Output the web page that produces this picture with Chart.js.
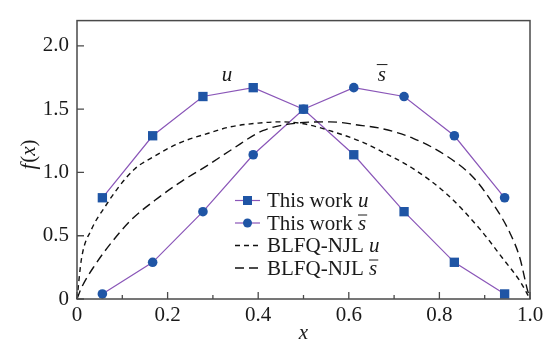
<!DOCTYPE html>
<html>
<head>
<meta charset="utf-8">
<script src="https://cdn.jsdelivr.net/npm/chart.js@4.4.1/dist/chart.umd.min.js"></script>
<style>
  html, body { margin: 0; padding: 0; background: #ffffff; }
  #wrap { width: 560px; height: 343px; position: relative; }
  .fontprobe { position: absolute; left: -1000px; top: 0; font-family: "Liberation Serif"; font-size: 21px; }
</style>
</head>
<body>
<span class="fontprobe">This work <i>u</i> 0.5</span>
<div id="wrap"><canvas id="c" width="560" height="343"></canvas></div>
<script>
// ---- data ----
const xPoints = [0.056, 0.167, 0.278, 0.389, 0.5, 0.611, 0.722, 0.833, 0.944];
const thisWorkU = [0.80, 1.29, 1.60, 1.67, 1.50, 1.14, 0.69, 0.29, 0.04];
const thisWorkS = [0.04, 0.29, 0.69, 1.14, 1.50, 1.67, 1.60, 1.29, 0.80];

const njlUx = [0, 0.01, 0.032, 0.062, 0.091, 0.128, 0.172, 0.224, 0.29, 0.338, 0.40, 0.45, 0.50, 0.558, 0.63, 0.67, 0.742, 0.816, 0.89, 0.94, 0.978, 1.0];
const njlUy = [0, 0.32, 0.55, 0.73, 0.88, 1.03, 1.13, 1.23, 1.31, 1.36, 1.39, 1.40, 1.385, 1.33, 1.24, 1.17, 1.03, 0.83, 0.55, 0.32, 0.14, 0];

const njlSx = [0, 0.01, 0.04, 0.077, 0.121, 0.172, 0.231, 0.29, 0.341, 0.41, 0.486, 0.558, 0.63, 0.669, 0.742, 0.816, 0.875, 0.919, 0.956, 0.978, 0.993, 1.0];
const njlSy = [0, 0.09, 0.27, 0.45, 0.63, 0.78, 0.93, 1.06, 1.18, 1.33, 1.39, 1.40, 1.37, 1.35, 1.27, 1.13, 0.96, 0.75, 0.52, 0.32, 0.09, 0];

const xMajorTicks = [0, 0.2, 0.4, 0.6, 0.8, 1.0];
const xMinorTicks = [0.1, 0.3, 0.5, 0.7, 0.9];
const yMajorTicks = [0, 0.5, 1.0, 1.5, 2.0];

const legendLabels = [
  ['This work ', 'u', false],
  ['This work ', 's', true],
  ['BLFQ-NJL ', 'u', false],
  ['BLFQ-NJL ', 's', true]
];

// ---- styles ----
const BLUE = '#1f55a5';
const PURPLE = '#8a56b8';
const FONT = '"Liberation Serif", serif';
const FS = 21;
const TXT = '#1a1a1a';
const FRAME = '#4a4a4a';

const zip = (xs, ys) => xs.map((x, i) => ({ x: x, y: ys[i] }));

function fmt(v) { return v === 0 ? '0' : v.toFixed(1); }

function drawMixed(ctx, x, y, plain, ital, bar) {
  ctx.textAlign = 'left';
  ctx.textBaseline = 'alphabetic';
  ctx.font = FS + 'px ' + FONT;
  ctx.fillText(plain, x, y);
  const w = ctx.measureText(plain).width;
  ctx.font = 'italic ' + FS + 'px ' + FONT;
  ctx.fillText(ital, x + w, y);
  if (bar) {
    const w2 = ctx.measureText(ital).width;
    ctx.beginPath();
    ctx.lineWidth = 1;
    ctx.moveTo(x + w, y - 14.5);
    ctx.lineTo(x + w + w2 + 1, y - 14.5);
    ctx.stroke();
  }
}

const decor = {
  id: 'decor',
  afterDraw(chart) {
    const ctx = chart.ctx;
    const xs = chart.scales.x, ys = chart.scales.y;
    const a = chart.chartArea;
    ctx.save();
    ctx.strokeStyle = FRAME;
    ctx.lineWidth = 1.5;
    ctx.strokeRect(a.left, a.top, a.right - a.left, a.bottom - a.top);
    ctx.lineWidth = 1.3;
    ctx.beginPath();
    xMajorTicks.forEach(v => { const p = xs.getPixelForValue(v); ctx.moveTo(p, a.bottom); ctx.lineTo(p, a.bottom - 7); });
    xMinorTicks.forEach(v => { const p = xs.getPixelForValue(v); ctx.moveTo(p, a.bottom); ctx.lineTo(p, a.bottom - 4); });
    yMajorTicks.forEach(v => { const p = ys.getPixelForValue(v); ctx.moveTo(a.left, p); ctx.lineTo(a.left + 7, p); });
    ctx.stroke();

    ctx.fillStyle = TXT;
    ctx.strokeStyle = TXT;
    ctx.font = 'italic ' + FS + 'px ' + FONT;
    ctx.textAlign = 'center';
    ctx.textBaseline = 'alphabetic';
    ctx.fillText('x', (a.left + a.right) / 2, 339);
    ctx.save();
    ctx.translate(35, 155);
    ctx.rotate(-Math.PI / 2);
    const parts = [['f', true], ['(', false], ['x', true], [')', false]];
    let total = 0;
    parts.forEach(p => { ctx.font = (p[1] ? 'italic ' : '') + FS + 'px ' + FONT; total += ctx.measureText(p[0]).width; });
    let cx = -total / 2;
    ctx.textAlign = 'left';
    parts.forEach(p => { ctx.font = (p[1] ? 'italic ' : '') + FS + 'px ' + FONT; ctx.fillText(p[0], cx, 0); cx += ctx.measureText(p[0]).width + (p[0] === 'f' ? 1 : 0); });
    ctx.restore();

    ctx.font = 'italic ' + FS + 'px ' + FONT;
    ctx.textAlign = 'center';
    ctx.fillText('u', xs.getPixelForValue(0.331), ys.getPixelForValue(1.726));
    const sx = xs.getPixelForValue(0.673), sy = ys.getPixelForValue(1.726);
    ctx.fillText('s', sx, sy);
    const sw = ctx.measureText('s').width;
    ctx.beginPath(); ctx.lineWidth = 1;
    ctx.moveTo(sx - sw / 2 - 1, sy - 16); ctx.lineTo(sx + sw / 2 + 1.5, sy - 16); ctx.stroke();

    const lx0 = 235, lx1 = 260, tx = 267;
    const rowsY = [200.5, 223, 245.5, 268];
    rowsY.forEach((ry, i) => {
      ctx.save();
      ctx.beginPath();
      if (i < 2) {
        ctx.strokeStyle = PURPLE; ctx.lineWidth = 1.2; ctx.setLineDash([]);
      } else {
        ctx.strokeStyle = '#111'; ctx.lineWidth = 1.4;
        ctx.setLineDash(i === 2 ? [5, 4] : [9, 5]);
      }
      ctx.moveTo(lx0, ry); ctx.lineTo(lx1, ry); ctx.stroke();
      ctx.setLineDash([]);
      ctx.fillStyle = BLUE;
      if (i === 0) { ctx.fillRect((lx0 + lx1) / 2 - 4.5, ry - 4.5, 9, 9); }
      if (i === 1) { ctx.beginPath(); ctx.arc((lx0 + lx1) / 2, ry, 4.5, 0, Math.PI * 2); ctx.fill(); }
      ctx.restore();
      ctx.fillStyle = TXT; ctx.strokeStyle = TXT;
      drawMixed(ctx, tx, ry + 6.5, legendLabels[i][0], legendLabels[i][1], legendLabels[i][2]);
    });
    ctx.restore();
  }
};

function build() {
  new Chart(document.getElementById('c'), {
    type: 'scatter',
    data: {
      datasets: [
        { label: 'BLFQ-NJL u', data: zip(njlUx, njlUy), showLine: true, borderColor: '#111', borderWidth: 1.4,
          borderDash: [5, 4], pointRadius: 0, cubicInterpolationMode: 'monotone', fill: false },
        { label: 'BLFQ-NJL s', data: zip(njlSx, njlSy), showLine: true, borderColor: '#111', borderWidth: 1.4,
          borderDash: [9, 5], pointRadius: 0, cubicInterpolationMode: 'monotone', fill: false },
        { label: 'This work u', data: zip(xPoints, thisWorkU), showLine: true, borderColor: PURPLE, borderWidth: 1.2,
          pointStyle: 'rect', pointRadius: 6.6, pointBackgroundColor: BLUE, pointBorderColor: BLUE, pointBorderWidth: 0 },
        { label: 'This work s', data: zip(xPoints, thisWorkS), showLine: true, borderColor: PURPLE, borderWidth: 1.2,
          pointStyle: 'circle', pointRadius: 4.8, pointBackgroundColor: BLUE, pointBorderColor: BLUE, pointBorderWidth: 0 }
      ]
    },
    options: {
      responsive: false,
      animation: false,
      layout: { padding: { top: 9, right: 30, left: 0, bottom: 0 } },
      plugins: { legend: { display: false }, tooltip: { enabled: false } },
      clip: false,
      scales: {
        x: {
          type: 'linear', min: 0, max: 1.0,
          grid: { display: false, drawTicks: false },
          border: { display: false },
          afterBuildTicks: s => { s.ticks = xMajorTicks.map(v => ({ value: v })); },
          afterFit: s => { s.height = 44; },
          ticks: { color: TXT, font: { family: FONT, size: FS }, padding: 4, maxRotation: 0, callback: v => fmt(v) }
        },
        y: {
          type: 'linear', min: 0, max: 2.2,
          grid: { display: false, drawTicks: false },
          border: { display: false },
          afterBuildTicks: s => { s.ticks = yMajorTicks.map(v => ({ value: v })); },
          afterFit: s => { s.width = 77; },
          ticks: { color: TXT, font: { family: FONT, size: FS }, padding: 8, callback: v => fmt(v) }
        }
      }
    },
    plugins: [decor]
  });
}

Promise.all([
  document.fonts.load('21px "Liberation Serif"'),
  document.fonts.load('italic 21px "Liberation Serif"')
]).then(build, build);
</script>
</body>
</html>
